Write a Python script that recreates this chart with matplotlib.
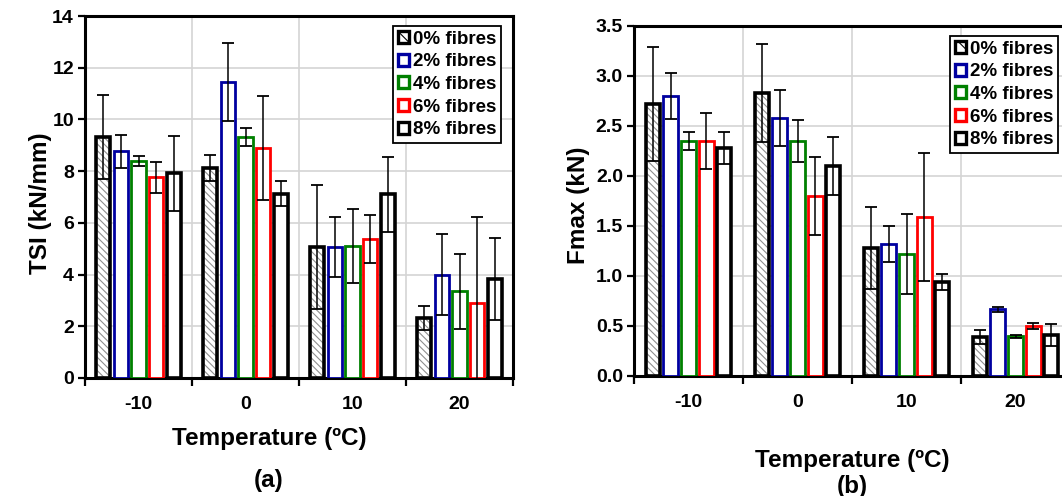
import matplotlib
matplotlib.use("Agg")
import numpy as np
from matplotlib import pyplot as plt
from matplotlib.patches import Patch

plt.rcParams['font.family'] = ['Liberation Sans', 'DejaVu Sans']
plt.rcParams['font.weight'] = 'bold'
plt.rcParams['hatch.linewidth'] = 0.8

temps = ["-10", "0", "10", "20"]
fibres = ["0% fibres", "2% fibres", "4% fibres", "6% fibres", "8% fibres"]
edge_colours = ["black", "#0000a0", "#008000", "#ff0000", "black"]

# TSI (kN/mm), one list per fibre content, over -10, 0, 10, 20 C
tsi_0 = [9.33, 8.12, 5.06, 2.32]
tsi_2 = [8.76, 11.44, 5.06, 4.00]
tsi_4 = [8.40, 9.31, 5.10, 3.35]
tsi_6 = [7.77, 8.89, 5.39, 2.90]
tsi_8 = [7.92, 7.13, 7.11, 3.83]
tsi_err_0 = [1.63, 0.52, 2.40, 0.45]
tsi_err_2 = [0.65, 1.50, 1.17, 1.55]
tsi_err_4 = [0.20, 0.35, 1.43, 1.45]
tsi_err_6 = [0.60, 2.00, 0.93, 3.33]
tsi_err_8 = [1.45, 0.47, 1.45, 1.60]

# Fmax (kN)
fmax_0 = [2.72, 2.83, 1.28, 0.39]
fmax_2 = [2.80, 2.58, 1.32, 0.67]
fmax_4 = [2.35, 2.35, 1.22, 0.40]
fmax_6 = [2.35, 1.80, 1.59, 0.50]
fmax_8 = [2.28, 2.10, 0.94, 0.41]
fmax_err_0 = [0.57, 0.49, 0.41, 0.07]
fmax_err_2 = [0.23, 0.28, 0.18, 0.025]
fmax_err_4 = [0.09, 0.21, 0.40, 0.015]
fmax_err_6 = [0.28, 0.39, 0.64, 0.03]
fmax_err_8 = [0.16, 0.29, 0.08, 0.11]

W, H = 1062, 496
fig = plt.figure(figsize=(W / 100, H / 100), dpi=100)


def px_axes(x0, y0, x1, y1):
    return fig.add_axes([x0 / W, 1 - y1 / H, (x1 - x0) / W, (y1 - y0) / H])


def draw_panel(ax, series, errors, ymax, ystep, fmt, lx, ly):
    x = np.arange(len(temps))
    slot, width = 0.164, 0.132
    for i, (vals, errs) in enumerate(zip(series, errors)):
        pos = x + (i - 2) * slot
        col = edge_colours[i]
        lw = 2.6 if col == "black" else 2.0
        if i == 0:
            # grey hatch first, black outline on top
            ax.bar(pos, vals, width, color="white", edgecolor="#909090",
                   hatch="\\\\\\\\\\", linewidth=0, zorder=2)
        ax.bar(pos, vals, width, facecolor="none" if i == 0 else "white",
               edgecolor=col, linewidth=lw, zorder=3)
        ax.errorbar(pos, vals, yerr=errs, fmt="none", ecolor="black",
                    elinewidth=1.1, capsize=4, capthick=1.3, zorder=4)

    ax.set_xlim(-0.5, len(temps) - 0.5)
    ax.set_ylim(0, ymax)
    ax.set_yticks(np.arange(0, ymax + ystep / 2, ystep))
    ax.set_yticklabels([fmt.format(v) for v in np.arange(0, ymax + ystep / 2, ystep)])
    ax.set_xticks(x)
    ax.set_xticklabels(temps)
    ax.set_xticks(np.arange(-0.5, len(temps)), minor=True)
    ax.tick_params(axis="x", which="major", length=0, labelsize=14, pad=13)
    ax.tick_params(axis="x", which="minor", length=6, width=1.6, direction="out")
    ax.tick_params(axis="y", length=5, width=1.6, direction="out", labelsize=14, pad=3)
    ax.set_axisbelow(True)
    ax.grid(axis="y", which="major", color="#d4d4d4", linewidth=1.2)
    ax.grid(axis="x", which="minor", color="#d4d4d4", linewidth=1.2)
    for s in ax.spines.values():
        s.set_linewidth(2.2)

    handles = []
    for i, lab in enumerate(fibres):
        handles.append(Patch(facecolor="white", edgecolor=edge_colours[i],
                             linewidth=2.4, hatch="\\\\" if i == 0 else None,
                             label=lab))
    leg = ax.legend(handles=handles, loc="upper right",
                    bbox_to_anchor=(1 - 12 / lx, 1 - 10 / ly),
                    frameon=True, fancybox=False, edgecolor="black",
                    framealpha=1, fontsize=13.5, handlelength=0.6,
                    handleheight=0.6, handletextpad=0.2, labelspacing=0.3,
                    borderpad=0.25, borderaxespad=0)
    leg.get_frame().set_linewidth(1.3)


ax1 = px_axes(85, 16, 513, 378)
draw_panel(ax1, [tsi_0, tsi_2, tsi_4, tsi_6, tsi_8],
           [tsi_err_0, tsi_err_2, tsi_err_4, tsi_err_6, tsi_err_8],
           14, 2, "{:.0f}", 428, 362)

ax2 = px_axes(634, 26, 1070, 376)
draw_panel(ax2, [fmax_0, fmax_2, fmax_4, fmax_6, fmax_8],
           [fmax_err_0, fmax_err_2, fmax_err_4, fmax_err_6, fmax_err_8],
           3.5, 0.5, "{:.1f}", 428, 350)

fs = 17.5
fig.text(40 / W, 1 - 203 / H, "TSI (kN/mm)", rotation=90, ha="center", va="center", fontsize=fs)
fig.text(269 / W, 1 - 438 / H, "Temperature (ºC)", ha="center", va="center", fontsize=fs)
fig.text(269 / W, 1 - 480 / H, "(a)", ha="center", va="center", fontsize=fs)
fig.text(578 / W, 1 - 205 / H, "Fmax (kN)", rotation=90, ha="center", va="center", fontsize=fs)
fig.text(852 / W, 1 - 460 / H, "Temperature (ºC)", ha="center", va="center", fontsize=fs)
fig.text(852 / W, 1 - 486 / H, "(b)", ha="center", va="center", fontsize=fs)

fig.savefig("out.png", dpi=100)
